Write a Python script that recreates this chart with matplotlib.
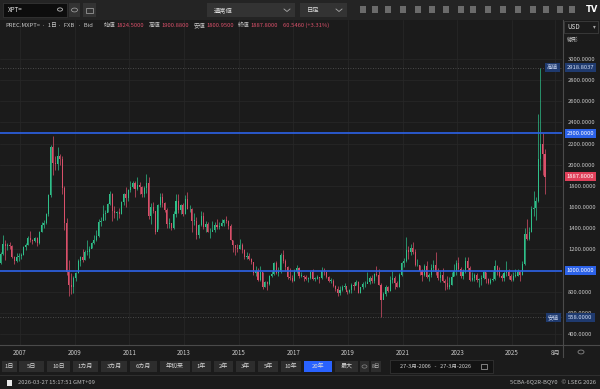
import matplotlib
matplotlib.use('Agg')
import matplotlib.pyplot as plt
from matplotlib.patches import Rectangle, Circle
from matplotlib.lines import Line2D
from matplotlib.transforms import blended_transform_factory
import pandas as pd

plt.rcParams['font.family'] = ['Noto Sans CJK JP', 'DejaVu Sans']

# XPT= monthly candles, Mar 2006 - Mar 2026 (USD/oz)
first_open = 1040
closes = [1070, 1160, 1250, 1230, 1240, 1230, 1130, 1090, 1130, 1140,
          1150, 1220, 1240, 1310, 1290, 1280, 1310, 1260, 1360, 1430, 1450, 1530,
          1710, 2170, 2020, 2010, 2080, 2050, 1780, 1450, 990, 860, 840, 930,
          980, 1090, 1130, 1100, 1180, 1180, 1200, 1260, 1290, 1330, 1460, 1470,
          1530, 1540, 1630, 1720, 1560, 1540, 1550, 1530, 1650, 1720, 1690, 1760,
          1790, 1830, 1770, 1810, 1790, 1720, 1780, 1830, 1520, 1600, 1560, 1360,
          1620, 1700, 1640, 1570, 1440, 1450, 1400, 1530, 1660, 1570, 1620, 1530,
          1680, 1580, 1580, 1470, 1470, 1340, 1430, 1520, 1410, 1440, 1360, 1360,
          1380, 1430, 1410, 1420, 1450, 1480, 1470, 1420, 1290, 1240, 1210, 1200,
          1240, 1190, 1130, 1140, 1110, 1080, 980, 1000, 910, 990, 840, 890,
          870, 950, 970, 1070, 980, 990, 1150, 1090, 1030, 940, 930, 905,
          1000, 1020, 950, 950, 940, 920, 930, 990, 920, 920, 940, 930,
          1000, 990, 940, 900, 900, 850, 830, 790, 820, 840, 850, 795,
          820, 860, 850, 890, 790, 840, 870, 870, 890, 930, 900, 970,
          960, 860, 720, 780, 840, 810, 910, 930, 880, 840, 960, 1070,
          1090, 1190, 1180, 1210, 1180, 1050, 1050, 1000, 960, 1040, 940, 960,
          1020, 1050, 990, 930, 960, 900, 880, 840, 860, 940, 1000, 1070,
          1010, 950, 990, 1090, 1020, 910, 930, 960, 910, 920, 930, 990,
          920, 880, 910, 920, 1040, 990, 950, 930, 980, 990, 950, 910,
          950, 950, 985, 960, 1060, 1350, 1300, 1360, 1580, 1590, 1660, 2050,
          2200, 2100, 1887.8]
highs = [1090, 1180, 1335, 1290, 1260, 1270, 1240, 1140, 1170, 1170,
         1170, 1230, 1260, 1330, 1370, 1300, 1320, 1320, 1370, 1460, 1480, 1540,
         1720, 2190, 2276, 2080, 2170, 2100, 2080, 1800, 1500, 1100, 980, 950,
         990, 1110, 1140, 1200, 1190, 1290, 1230, 1270, 1340, 1380, 1490, 1510,
         1620, 1570, 1640, 1752, 1730, 1610, 1560, 1590, 1660, 1730, 1790, 1770,
         1850, 1850, 1850, 1880, 1840, 1800, 1800, 1910, 1880, 1640, 1650, 1560,
         1630, 1730, 1730, 1650, 1590, 1500, 1450, 1560, 1720, 1720, 1630, 1640,
         1710, 1742, 1620, 1590, 1540, 1510, 1440, 1560, 1550, 1470, 1460, 1400,
         1470, 1460, 1490, 1460, 1490, 1490, 1520, 1480, 1440, 1290, 1240, 1250,
         1300, 1260, 1200, 1180, 1170, 1120, 1080, 1040, 1020, 1040, 990, 900,
         900, 960, 1000, 1080, 1090, 1030, 1170, 1190, 1110, 1040, 1020, 960,
         1010, 1050, 1030, 990, 960, 960, 940, 1000, 1010, 940, 960, 940,
         1030, 1020, 990, 950, 930, 920, 860, 850, 850, 860, 880, 820,
         830, 880, 890, 910, 900, 840, 890, 900, 990, 950, 960, 980,
         1040, 1010, 880, 800, 860, 850, 950, 1000, 950, 900, 980, 1080,
         1120, 1320, 1230, 1250, 1270, 1200, 1110, 1050, 1010, 1060, 1090, 980,
         1060, 1100, 1180, 1020, 1000, 1020, 920, 950, 940, 990, 1060, 1100,
         1130, 1030, 1010, 1130, 1130, 1040, 990, 980, 980, 930, 960, 1000,
         990, 930, 930, 1000, 1095, 1050, 1030, 970, 1000, 1090, 1010, 970,
         990, 1010, 1010, 1000, 1090, 1400, 1490, 1410, 1610, 1750, 1700, 2480,
         2918.8, 2300, 2150]
lows = [1020, 1060, 1150, 1100, 1190, 1200, 1120, 1060, 1080, 1090,
        1110, 1150, 1190, 1240, 1270, 1250, 1270, 1230, 1250, 1360, 1400, 1440,
        1520, 1700, 1900, 1950, 1950, 2000, 1720, 1380, 960, 763, 780, 790,
        900, 980, 1040, 1080, 1100, 1150, 1120, 1210, 1250, 1280, 1320, 1420,
        1480, 1480, 1550, 1620, 1470, 1500, 1480, 1500, 1530, 1620, 1600, 1660,
        1740, 1780, 1700, 1760, 1720, 1700, 1700, 1730, 1490, 1440, 1540, 1350,
        1390, 1600, 1600, 1550, 1400, 1400, 1380, 1390, 1510, 1540, 1530, 1520,
        1530, 1580, 1550, 1360, 1430, 1300, 1310, 1420, 1390, 1360, 1360, 1310,
        1370, 1360, 1390, 1390, 1420, 1420, 1450, 1390, 1290, 1180, 1150, 1180,
        1200, 1170, 1110, 1110, 1100, 1060, 960, 950, 900, 900, 830, 840,
        812, 860, 940, 960, 970, 950, 980, 1070, 1000, 920, 910, 890,
        900, 980, 930, 940, 900, 910, 890, 920, 910, 900, 920, 880,
        920, 960, 930, 890, 880, 840, 810, 760, 770, 810, 830, 780,
        790, 790, 820, 860, 790, 790, 830, 840, 880, 870, 880, 880,
        950, 860, 558, 730, 760, 800, 810, 880, 830, 840, 840, 950,
        1030, 1080, 1110, 1150, 1160, 1040, 1040, 960, 900, 950, 930, 900,
        940, 1000, 960, 910, 890, 890, 820, 830, 830, 860, 950, 960,
        1000, 930, 920, 980, 1000, 900, 900, 900, 890, 840, 860, 920,
        880, 870, 870, 900, 910, 960, 940, 900, 900, 950, 920, 900,
        900, 940, 950, 900, 960, 1050, 1290, 1290, 1360, 1520, 1480, 1650,
        1950, 1900, 1720]

year_ticks = [2007, 2009, 2011, 2013, 2015, 2017, 2019, 2021, 2023, 2025]
price_ticks = [400, 600, 800, 1200, 1400, 1600, 1800, 2000, 2200, 2400, 2600, 2800, 3000]
hlines = [2300, 1000]
last_price = 1887.8
period_high = 2918.8037
period_low = 558.0

range_buttons = ['1日', '5日', '10日', '1カ月', '3カ月', '6カ月', '年初来', '1年', '2年', '3年', '5年', '10年', '20年', '最大']
button_x = [(2, 17), (19, 44), (47, 70), (73, 98), (101, 127), (130, 157), (160, 190),
            (192, 211), (214, 233), (236, 255), (258, 278), (281, 301), (304, 332), (335, 358)]

BG = '#1b1b1b'
UP = '#2fc08a'
DOWN = '#d9506a'
BLUE = '#2c62e8'
NAVY = '#1f3a6e'
TXT = '#c8c8c8'


def fx(x):
    return x / 600


def fy(y):
    return 1 - y / 389


fig = plt.figure(figsize=(6, 3.89), dpi=100, facecolor=BG)

ax = fig.add_axes([0, fy(345), 562 / 600, (345 - 20) / 389])
ax.set_facecolor(BG)
for s in ax.spines.values():
    s.set_visible(False)
ax.set_xlim(2006.27, 2026.83)
ax.set_ylim(296, 3369)

months = pd.date_range('2006-03-01', '2026-03-01', freq='MS')
t = months.year + (months.month - 0.5) / 12
opens = [first_open] + closes[:-1]

cols = [UP if c >= o else DOWN for o, c in zip(opens, closes)]
ax.vlines(t, lows, highs, colors=cols, lw=0.5, zorder=3)
bottoms = [min(o, c) for o, c in zip(opens, closes)]
heights = [max(abs(c - o), 6) for o, c in zip(opens, closes)]
ax.bar(t, heights, bottom=bottoms, width=0.45 / 12, color=cols, linewidth=0, zorder=4)

# grid and axes
ax.set_yticks(price_ticks + [1000])
ax.yaxis.tick_right()
ax.set_yticklabels(['%.4f' % p for p in price_ticks] + [''])
ax.tick_params(axis='y', length=0, pad=4.3, labelsize=4.2, labelcolor=TXT)
ax.set_xticks([y + 0.0 for y in year_ticks] + [2026.58])
ax.set_xticklabels([str(y) for y in year_ticks] + ['8月'])
ax.tick_params(axis='x', length=0, pad=3, labelsize=4.5, labelcolor=TXT)
ax.grid(color='#282828', lw=0.5, zorder=0)

for h in hlines:
    ax.axhline(h, color=BLUE, lw=1.2, zorder=5)
for h in [period_high, period_low]:
    ax.axhline(h, color='#5a5a5a', lw=0.6, ls=(0, (1, 2)), zorder=2)

trans = blended_transform_factory(fig.transFigure, ax.transData)


def price_box(p, label, fc, tc='white'):
    ax.text(fx(580.5), p, label, transform=trans, ha='center', va='center', fontsize=4.2,
            color=tc, clip_on=False, zorder=10,
            bbox=dict(boxstyle='square,pad=0.35', fc=fc, ec='none'))


price_box(period_high, '%.4f' % period_high, NAVY, '#d0dcf5')
price_box(2300, '2300.0000', BLUE)
price_box(last_price, '%.4f' % last_price, '#e0405a')
price_box(1000, '1000.0000', BLUE)
price_box(period_low, '%.4f' % period_low, NAVY, '#d0dcf5')
ax.text(fx(552.5), period_high, '高値', transform=trans, ha='center', va='center', fontsize=4,
        color='#d0dcf5', zorder=10, clip_on=False, bbox=dict(boxstyle='square,pad=0.3', fc=NAVY, ec='none'))
ax.text(fx(553.5), period_low, '安値', transform=trans, ha='center', va='center', fontsize=4,
        color='#d0dcf5', zorder=10, clip_on=False, bbox=dict(boxstyle='square,pad=0.3', fc=NAVY, ec='none'))

# frame lines
fig.add_artist(Line2D([fx(563), fx(563)], [fy(20), fy(357)], color='#4a4a4a', lw=0.8))
fig.add_artist(Line2D([0, 1], [fy(345), fy(345)], color='#4a4a4a', lw=0.8))
fig.add_artist(Line2D([0, 1], [fy(375), fy(375)], color='#333333', lw=0.6))
fig.add_artist(Circle((fx(581), fy(352)), 3 / 600, transform=fig.transFigure, fill=False, ec='#888888', lw=0.6))

# top toolbar
fig.add_artist(Rectangle((0, fy(20)), 1, 20 / 389, transform=fig.transFigure, fc='#242424', ec='none'))
fig.add_artist(Rectangle((fx(3), fy(17)), fx(64), 14 / 389, transform=fig.transFigure, fc='#0d0d0d', ec='#3a3a3a', lw=0.5))
fig.text(fx(8), fy(10), 'XPT=', fontsize=4.5, color='#e8e8e8', va='center')
fig.add_artist(Circle((fx(60), fy(9.5)), 2.5 / 600, transform=fig.transFigure, fill=False, ec='#bbbbbb', lw=0.6))
for x0, x1 in [(69, 80), (83, 96)]:
    fig.add_artist(Rectangle((fx(x0), fy(17)), fx(x1 - x0), 14 / 389, transform=fig.transFigure, fc='#333333', ec='none'))
fig.add_artist(Circle((fx(74.5), fy(10)), 3 / 600, transform=fig.transFigure, fill=False, ec='#aaaaaa', lw=0.5))
fig.add_artist(Rectangle((fx(86), fy(13)), fx(7), 5 / 389, transform=fig.transFigure, fill=False, ec='#aaaaaa', lw=0.5))
for x0, x1, lab in [(207, 295, '通常値'), (300, 347, '日足')]:
    fig.add_artist(Rectangle((fx(x0), fy(17)), fx(x1 - x0), 14 / 389, transform=fig.transFigure, fc='#333333', ec='none'))
    fig.text(fx(x0 + 7), fy(10), lab, fontsize=4.5, color='#e0e0e0', va='center')
    fig.add_artist(Line2D([fx(x1 - 11), fx(x1 - 8), fx(x1 - 5)], [fy(9), fy(11.5), fy(9)], color='#aaaaaa', lw=0.6))
for xi in [363, 375, 388, 403, 418, 432, 446, 461, 473, 488, 503, 518, 533, 546, 560, 572]:
    fig.add_artist(Rectangle((fx(xi - 3), fy(13)), fx(6), 7 / 389, transform=fig.transFigure, fc='#8a8a8a', ec='none', alpha=0.7))
fig.text(fx(592), fy(10), 'TV', fontsize=6, color='white', fontweight='bold', ha='center', va='center', family='DejaVu Sans')

# info row
info_parts = [(5, 'PREC.MXPT=', TXT), (42, '·  1日', TXT), (58, '·  FXB', TXT), (78, '·  Bid', TXT),
              (104, '始値', TXT), (116, '1824.5000', DOWN), (149, '高値', TXT), (161, '1900.8800', DOWN),
              (194, '安値', TXT), (206, '1800.9500', DOWN), (238, '終値', TXT), (250, '1887.8000', DOWN),
              (283, '60.5460 (+3.31%)', DOWN)]
for x, s, c in info_parts:
    fig.text(fx(x), fy(25.5), s, fontsize=4.2, color=c, va='center')

# right panel header
fig.add_artist(Rectangle((fx(564), fy(33)), fx(34), 12 / 389, transform=fig.transFigure, fc=BG, ec='#444444', lw=0.5))
fig.text(fx(567), fy(27), 'USD', fontsize=4.5, color='#e0e0e0', va='center')
fig.text(fx(594), fy(27), '▾', fontsize=4, color='#aaaaaa', va='center', ha='center', family='DejaVu Sans')
fig.text(fx(567), fy(40), '線形', fontsize=4.2, color='#cccccc', va='center')

# range buttons
for (x0, x1), lab in zip(button_x, range_buttons):
    fc = '#2962ff' if lab == '20年' else '#2d2d2d'
    fig.add_artist(Rectangle((fx(x0), fy(372)), fx(x1 - x0), 11 / 389, transform=fig.transFigure, fc=fc, ec='none'))
    fig.text(fx((x0 + x1) / 2), fy(366.5), lab, fontsize=4.3, color='#d8d8d8', ha='center', va='center')
fig.add_artist(Rectangle((fx(360), fy(372)), fx(9), 11 / 389, transform=fig.transFigure, fc='#2d2d2d', ec='none'))
fig.add_artist(Circle((fx(364.5), fy(366.5)), 2.5 / 600, transform=fig.transFigure, fill=False, ec='#888888', lw=0.5))
fig.add_artist(Rectangle((fx(371), fy(372)), fx(10), 11 / 389, transform=fig.transFigure, fc='#2d2d2d', ec='none'))
fig.text(fx(376), fy(366.5), '8日', fontsize=3.8, color='#bbbbbb', ha='center', va='center')
fig.add_artist(Rectangle((fx(390), fy(373)), fx(103), 13 / 389, transform=fig.transFigure, fc='#131313', ec='#383838', lw=0.5))
fig.text(fx(435), fy(366.5), '27-3月-2006   -   27-3月-2026', fontsize=4, color='#d0d0d0', ha='center', va='center')
fig.add_artist(Rectangle((fx(481), fy(369)), fx(6), 5 / 389, transform=fig.transFigure, fill=False, ec='#aaaaaa', lw=0.5))

# status row
fig.add_artist(Rectangle((fx(7), fy(386)), fx(5), 6 / 389, transform=fig.transFigure, fc='#e8e8e8', ec='none'))
fig.text(fx(18), fy(383), '2026-03-27 15:17:51 GMT+09', fontsize=4.2, color='#bdbdbd', va='center')
fig.text(fx(596), fy(383), '5CBA-6Q2R-BQY0   © LSEG 2026', fontsize=4.2, color='#bdbdbd', va='center', ha='right')

fig.savefig('out.png', dpi=100, facecolor=fig.get_facecolor())
